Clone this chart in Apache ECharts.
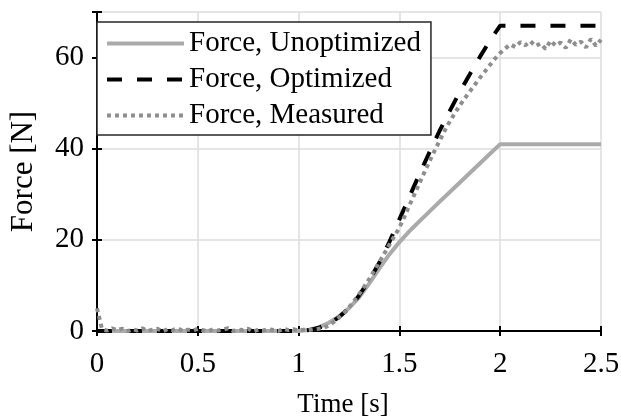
<!DOCTYPE html>
<html>
<head>
<meta charset="utf-8">
<script src="https://cdn.jsdelivr.net/npm/echarts@6/dist/echarts.min.js"></script>
<style>
  html, body { margin: 0; padding: 0; background: #fff; }
  #chart { width: 621px; height: 419px; }
</style>
</head>
<body>
<div id="chart"></div>
<script>
// force curves
const unoptTime = [0, 1.0, 1.05, 1.1, 1.15, 1.2, 1.25, 1.3, 1.35, 1.4, 1.45, 1.5, 1.55, 1.6, 1.7, 1.8, 1.9, 2.0, 2.5];
const unoptForce = [0, 0, 0.2, 0.8, 1.8, 3.2, 5.0, 7.4, 10.4, 13.7, 16.8, 19.5, 21.9, 24.1, 28.4, 32.6, 36.8, 41.0, 41.0];

const optTime = [0, 1.0, 1.05, 1.1, 1.15, 1.2, 1.25, 1.3, 1.35, 1.4, 1.45, 1.5, 1.55, 1.6, 1.65, 1.7, 1.75, 1.8, 1.85, 1.9, 1.95, 2.0, 2.5];
const optForce = [0, 0, 0.2, 0.7, 1.6, 3.0, 5.0, 7.8, 11.1, 15.0, 19.5, 24.5, 29.5, 34.5, 39.3, 44.0, 48.3, 52.5, 56.4, 60.2, 63.8, 67.0, 67.0];

const measTime = [
  0, 0.025, 0.05, 0.075, 0.1, 0.125, 0.15, 0.175, 0.2, 0.225,
  0.25, 0.275, 0.3, 0.325, 0.35, 0.375, 0.4, 0.425, 0.45, 0.475,
  0.5, 0.525, 0.55, 0.575, 0.6, 0.625, 0.65, 0.675, 0.7, 0.725,
  0.75, 0.775, 0.8, 0.825, 0.85, 0.875, 0.9, 0.925, 0.95, 0.975,
  1.0, 1.025, 1.05, 1.075, 1.1, 1.125, 1.15, 1.175, 1.2, 1.225,
  1.25, 1.275, 1.3, 1.325, 1.35, 1.375, 1.4, 1.425, 1.45, 1.475,
  1.5, 1.525, 1.55, 1.575, 1.6, 1.625, 1.65, 1.675, 1.7, 1.725,
  1.75, 1.775, 1.8, 1.825, 1.85, 1.875, 1.9, 1.925, 1.95, 1.975,
  2.0, 2.025, 2.05, 2.075, 2.1, 2.125, 2.15, 2.175, 2.2, 2.225,
  2.25, 2.275, 2.3, 2.325, 2.35, 2.375, 2.4, 2.425, 2.45, 2.475, 2.5
];
const measForce = [
  5.0, 0.4, 0.1, 0.6, 0.2, 0.5, -0.1, 0.4, 0.1, 0.6,
  0.0, 0.3, 0.5, -0.1, 0.4, 0.2, 0.6, 0.0, 0.3, 0.1,
  0.5, 0.2, -0.1, 0.4, 0.1, 0.3, 0.6, 0.0, 0.3, 0.2,
  0.5, -0.1, 0.3, 0.1, 0.4, 0.2, 0.0, 0.5, 0.2, 0.4,
  0.1, 0.3, 0.2, 0.4, 0.5, 0.7, 1.2, 2.0, 2.9, 4.0,
  5.2, 6.6, 8.1, 9.7, 11.4, 13.2, 15.1, 17.0, 18.9, 20.8,
  22.7, 25.1, 27.6, 30.0, 32.5, 34.9, 37.3, 39.6, 41.8, 44.0,
  46.0, 47.8, 49.5, 51.1, 52.6, 54.1, 55.6, 57.0, 58.4, 59.8,
  61.0, 62.0, 62.9, 62.3, 63.4, 62.7, 63.6, 62.5, 63.1, 61.9,
  63.7, 62.6, 63.3, 62.1, 64.0, 62.8, 63.5, 62.2, 64.1, 62.6, 63.9
];

const seriesNames = ['Force, Unoptimized', 'Force, Optimized', 'Force, Measured'];

function pairs(xs, ys) {
  return xs.map((x, i) => [x, ys[i]]);
}

const font = 'Liberation Serif, Times New Roman, serif';
const chart = echarts.init(document.getElementById('chart'));

chart.setOption({
  animation: false,
  backgroundColor: '#fff',
  textStyle: { fontFamily: font },
  grid: { left: 97, right: 20, top: 12, bottom: 88, outerBoundsMode: 'none', containLabel: false },
  legend: {
    orient: 'vertical',
    left: 97,
    top: 22,
    padding: [6, 10, 4, 8],
    itemWidth: 77,
    itemHeight: 14,
    itemGap: 5,
    itemTextGap: 6,
    backgroundColor: '#fff',
    borderColor: '#262626',
    borderWidth: 1.5,
    borderRadius: 0,
    itemStyle: { color: 'transparent', borderWidth: 0 },
    lineStyle: { width: 'inherit' },
    textStyle: { fontFamily: font, fontSize: 29, color: '#000', lineHeight: 31 },
    data: seriesNames
  },
  xAxis: [{
    type: 'value',
    min: 0, max: 2.5, interval: 0.5,
    name: 'Time [s]',
    nameLocation: 'middle',
    nameGap: 60,
    nameTextStyle: { fontFamily: font, fontSize: 27, color: '#000', padding: [0, 12, 0, 0] },
    axisLine: { lineStyle: { color: '#000', width: 2 } },
    axisTick: { inside: true, length: 5, lineStyle: { color: '#000', width: 2 } },
    axisLabel: { fontFamily: font, fontSize: 29, color: '#000', margin: 19 },
    splitLine: { lineStyle: { color: '#dcdcdc', width: 1.5 } }
  }, {
    type: 'value',
    position: 'top',
    min: 0, max: 2.5, interval: 0.5,
    axisLine: { lineStyle: { color: '#000', width: 2 } },
    axisTick: { inside: true, length: 5, lineStyle: { color: '#000', width: 2 } },
    axisLabel: { show: false },
    splitLine: { show: false }
  }],
  yAxis: [{
    type: 'value',
    min: 0, max: 70, interval: 20,
    name: 'Force [N]',
    nameLocation: 'middle',
    nameGap: 58,
    nameTextStyle: { fontFamily: font, fontSize: 31, color: '#000' },
    axisLine: { show: true, lineStyle: { color: '#000', width: 2 } },
    axisTick: { show: true, inside: true, length: 5, lineStyle: { color: '#000', width: 2 } },
    axisLabel: {
      fontFamily: font, fontSize: 29, color: '#000', margin: 13,
      formatter: v => (v === 70 ? '' : String(v))
    },
    splitLine: { lineStyle: { color: '#dcdcdc', width: 1.5 } }
  }, {
    type: 'value',
    position: 'right',
    min: 0, max: 70, interval: 20,
    axisLine: { show: true, lineStyle: { color: '#000', width: 2 } },
    axisTick: { show: true, inside: true, length: 5, lineStyle: { color: '#000', width: 2 } },
    axisLabel: { show: false },
    splitLine: { show: false }
  }],
  series: [{
    name: seriesNames[0],
    type: 'line',
    symbol: 'none',
    data: pairs(unoptTime, unoptForce),
    lineStyle: { color: '#aaaaaa', width: 4 },
    itemStyle: { color: '#aaaaaa' }
  }, {
    name: seriesNames[1],
    type: 'line',
    symbol: 'none',
    data: pairs(optTime, optForce),
    lineStyle: { color: '#000', width: 4, type: [15, 15] },
    itemStyle: { color: '#000' }
  }, {
    name: seriesNames[2],
    type: 'line',
    symbol: 'none',
    data: pairs(measTime, measForce),
    lineStyle: { color: '#8e8e8e', width: 4, type: [4, 4] },
    itemStyle: { color: '#8e8e8e' }
  }]
});
</script>
</body>
</html>
